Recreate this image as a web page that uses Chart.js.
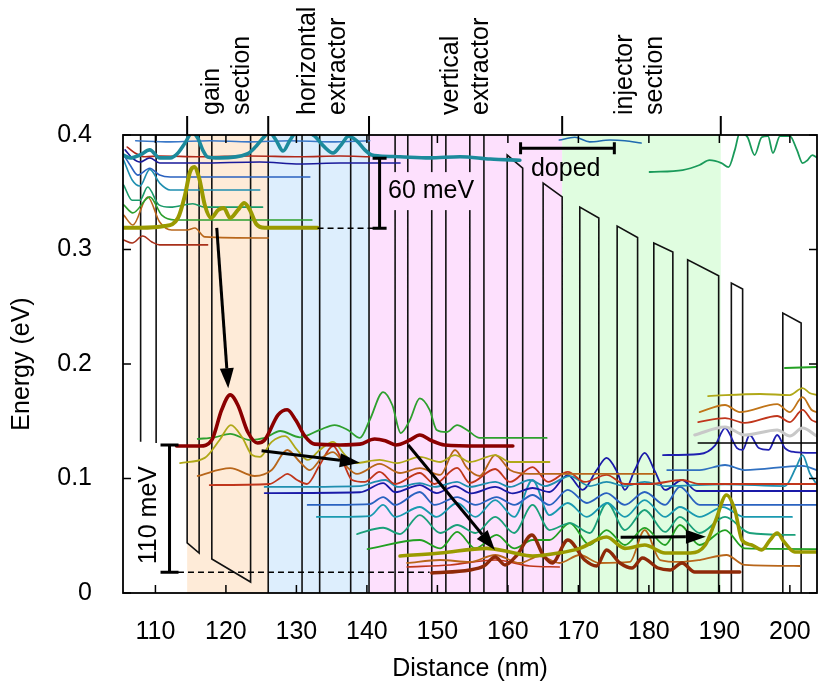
<!DOCTYPE html>
<html><head><meta charset="utf-8">
<script src="https://cdn.jsdelivr.net/npm/chart.js@4.4.1/dist/chart.umd.min.js"></script>
<style>html,body{margin:0;padding:0;background:#fff;}canvas{display:block;}</style>
</head><body>
<canvas id="c" width="818" height="691"></canvas>
<script>
// ---------- axes / sections ----------
const xTicks = [110,120,130,140,150,160,170,180,190,200];
const yTicks = [0,0.1,0.2,0.3,0.4];
const yTickLabels = ['0','0.1','0.2','0.3','0.4'];
const sectionNames = [['gain','section'],['horizontal','extractor'],['vertical','extractor'],['injector','section']];
const sectionBounds = [114.5,126.0,140.3,167.7,190.2];
const sectionLabelCenters = [120.1,133.8,154.1,178.7];

// ---------- conduction band profile (nm, eV); null = break ----------
const bandProfile = [
 [107.9,0.5],[107.9,0.132],null,
 [110.1,0.131],[110.1,0.5],[114.5,0.5],[114.5,0.0437],[116.2,0.0349],[116.2,0.5],[118.0,0.5],[118.0,0.0297],[123.5,0.0096],[123.5,0.5],
 [126.0,0.5],[126.0,-0.1],[130.8,-0.1],[130.8,0.5],[133.3,0.5],[133.3,-0.1],[137.7,-0.1],[137.7,0.5],[140.3,0.5],[140.3,-0.1],
 [144.0,-0.1],[144.0,0.5],[145.8,0.5],[145.8,-0.1],[149.2,-0.1],[149.2,0.5],[151.2,0.5],[151.2,-0.1],[154.6,-0.1],[154.6,0.5],
 [156.6,0.5],[156.6,-0.1],[159.9,-0.1],[159.9,0.3825],[162.1,0.371],[162.1,-0.1],[165.0,-0.1],[165.0,0.358],[167.7,0.346],[167.7,-0.1],
 [170.2,-0.1],[170.2,0.337],[172.9,0.3275],[172.9,-0.1],[175.5,-0.1],[175.5,0.3205],[178.4,0.3105],[178.4,-0.1],[180.7,-0.1],[180.7,0.3057],
 [183.4,0.2978],[183.4,-0.1],[185.5,-0.1],[185.5,0.291],[189.9,0.277],[189.9,-0.1],[191.7,-0.1],[191.7,0.2707],[193.3,0.2655],[193.3,-0.1],
 [199.0,-0.1],[199.0,0.2445],[201.6,0.2358],[201.6,-0.1],[206,-0.1]
];

// ---------- wavefunctions: energy + |psi|^2 (nm, eV) ----------
const ulBlueTop = [[107.2,0.395],[112.1,0.394],[117.7,0.395],[123.4,0.394],[129.1,0.395],[134.8,0.394],[140.4,0.395]];
const dopedBlueTop = [[167.3,0.3956],[169.5,0.398],[171.6,0.394],[174.5,0.3956],[176.6,0.395],[178.9,0.393]];
const ulTealThick = [[105.4,0.3825],[106.4,0.380],[107.8,0.3825],[109.2,0.387],[110.6,0.380],[112.1,0.380],[113.2,0.3843],[114.2,0.393],[115.2,0.402],[116.0,0.3974],[116.7,0.387],[117.4,0.3808],[119.1,0.380],[123.0,0.3834],[124.1,0.389],[125.2,0.397],[126.2,0.402],[127.1,0.3956],[128.1,0.386],[129.1,0.3956],[129.9,0.402],[131.2,0.403],[132.6,0.399],[133.9,0.390],[135.2,0.3843],[136.3,0.391],[137.4,0.399],[138.6,0.3947],[139.7,0.387],[140.7,0.3825],[141.8,0.3817],[144.7,0.381],[148.9,0.380],[153.2,0.381],[157.5,0.379],[161.7,0.378]];
const ulRed = [[106.0,0.3895],[107.1,0.3843],[108.5,0.381],[110.6,0.3817],[116.3,0.381],[123.4,0.3817],[130.5,0.381],[136.2,0.3817],[140.4,0.381]];
const ulNavy = [[105.7,0.387],[106.7,0.380],[107.8,0.3764],[109.2,0.380],[110.6,0.3755],[116.3,0.3755],[124.8,0.3764],[130.5,0.3747],[136.2,0.3755],[144.7,0.3755]];
const ulBlue = [[105.5,0.3825],[106.4,0.3738],[107.5,0.365],[109.2,0.371],[110.6,0.365],[112.1,0.3633],[131.9,0.3633]];
const ulTeal = [[105.5,0.378],[106.7,0.3607],[107.8,0.3555],[109.2,0.370],[110.6,0.358],[112.1,0.352],[124.8,0.352]];
const ulTealGreen = [[105.5,0.3563],[106.7,0.343],[107.8,0.343],[108.9,0.3546],[110.5,0.339],[112.1,0.337],[115.3,0.340],[117.0,0.337],[125.2,0.337]];
const ulGreen = [[105.5,0.339],[106.8,0.332],[109.2,0.346],[110.9,0.330],[112.8,0.3258],[132.2,0.3258]];
const ulOrange = [[105.5,0.330],[106.8,0.3214],[108.9,0.3459],[110.6,0.324],[112.3,0.317],[114.5,0.317],[115.6,0.3188],[117.0,0.311],[126.0,0.310]];
const ulOliveThick = [[105.4,0.319],[107.8,0.319],[111.3,0.3205],[113.2,0.3275],[114.2,0.3476],[114.9,0.3677],[115.5,0.372],[116.2,0.3624],[117.0,0.3389],[117.9,0.3275],[118.9,0.3345],[119.7,0.3362],[120.6,0.3275],[121.7,0.3345],[122.6,0.3406],[123.4,0.3345],[124.3,0.3223],[125.5,0.319],[133.0,0.319]];
const ulDarkRed = [[105.5,0.3083],[106.7,0.3057],[108.2,0.3118],[109.5,0.3066],[110.6,0.304],[117.4,0.304]];
const trGreen = [[180.1,0.3677],[184.8,0.3694],[187.2,0.3738],[188.6,0.378],[190.3,0.3755],[191.3,0.372],[192.2,0.387],[192.9,0.402],[194.0,0.398],[195.0,0.3825],[196.0,0.398],[196.9,0.399],[197.6,0.3843],[198.6,0.399],[200.0,0.399],[201.0,0.387],[201.8,0.3755],[202.5,0.378],[203.2,0.3825],[203.9,0.380]];

const mDarkRedThick = [[113.0,0.1284],[116.3,0.1284],[118.0,0.1336],[119.4,0.160],[120.6,0.173],[121.7,0.164],[123.1,0.1406],[124.5,0.131],[125.5,0.1336],[127.4,0.1555],[128.7,0.160],[129.9,0.151],[131.2,0.137],[132.6,0.130],[136.2,0.1293],[139.0,0.130],[141.1,0.1345],[142.6,0.133],[144.1,0.1293],[146.1,0.1336],[147.5,0.138],[149.2,0.133],[151.0,0.1293],[156.0,0.1284],[160.7,0.1284]];
const mOlive = [[113.5,0.1135],[117.0,0.118],[119.1,0.1336],[120.7,0.1467],[122.3,0.136],[123.7,0.1205],[124.8,0.1188],[126.5,0.132],[128.4,0.137],[130.1,0.1249],[131.6,0.1162],[133.3,0.1249],[135.2,0.132],[136.9,0.1205],[138.3,0.1135],[141.8,0.1162],[144.3,0.1135],[147.5,0.1188],[150.4,0.1144],[152.5,0.1205],[154.6,0.1144],[158.2,0.1205],[160.3,0.1144],[165.9,0.1144]];
const mGreen = [[116.0,0.1345],[118.4,0.136],[120.6,0.1389],[123.4,0.1336],[125.5,0.1354],[127.7,0.1415],[130.5,0.136],[133.3,0.1424],[135.4,0.1467],[137.3,0.1424],[139.0,0.1354],[140.4,0.1511],[142.3,0.1755],[143.6,0.1642],[144.8,0.1397],[146.1,0.1511],[147.5,0.170],[148.9,0.160],[149.9,0.1424],[151.3,0.1406],[152.8,0.1467],[154.2,0.1424],[156.0,0.1354],[165.5,0.1354]];
const mOrange = [[116.0,0.1022],[120.6,0.109],[124.1,0.1022],[126.5,0.1074],[128.7,0.1249],[130.5,0.1144],[131.9,0.1074],[133.6,0.118],[135.2,0.123],[136.9,0.1118],[138.6,0.104],[141.8,0.1127],[144.7,0.1048],[147.5,0.109],[150.4,0.1031],[152.5,0.1249],[154.2,0.1092],[156.0,0.1022],[158.2,0.1205],[160.3,0.1074],[163.1,0.104],[180.9,0.104]];
const mRed = [[117.7,0.0943],[126.2,0.0952],[127.7,0.1004],[128.7,0.104],[130.1,0.0987],[131.5,0.0952],[133.3,0.1118],[135.2,0.1284],[136.6,0.1144],[137.9,0.0987],[139.7,0.097],[141.8,0.1057],[144.0,0.0952],[147.5,0.1048],[149.6,0.0952],[152.8,0.1092],[154.6,0.0961],[158.2,0.1083],[160.3,0.097],[163.5,0.110],[165.7,0.097],[168.5,0.1057],[170.9,0.097],[174.0,0.1031],[176.6,0.0952],[180.1,0.0952],[184.7,0.0987],[187.2,0.0952],[203.8,0.0952]];
const mTeal = [[125.5,0.0926],[139.0,0.0934],[141.1,0.097],[142.6,0.0987],[144.4,0.0926],[147.5,0.096],[149.6,0.0926],[152.8,0.097],[154.6,0.0926],[158.2,0.097],[160.3,0.0926],[163.1,0.0987],[165.3,0.0934],[168.8,0.102],[171.6,0.0934],[174.0,0.097],[176.6,0.0934],[179.4,0.097],[182.3,0.0934],[190.8,0.095],[199.3,0.0934],[200.9,0.11],[201.8,0.1205],[202.8,0.105],[203.8,0.095]];
const mNavy = [[125.5,0.0873],[139.0,0.088],[142.3,0.096],[144.0,0.088],[147.5,0.0943],[149.9,0.0873],[152.5,0.0934],[154.8,0.087],[158.2,0.0926],[160.7,0.087],[163.5,0.0917],[165.9,0.0882],[168.5,0.103],[170.6,0.090],[172.6,0.1074],[174.0,0.118],[175.5,0.1057],[176.6,0.090],[178.0,0.1074],[179.4,0.1223],[180.9,0.1057],[182.3,0.090],[184.7,0.0987],[186.8,0.0891],[203.8,0.0891]];
const mBlue = [[131.6,0.0769],[140.4,0.0777],[142.3,0.0838],[144.0,0.0769],[147.5,0.0882],[149.6,0.0769],[152.8,0.0838],[155.4,0.0769],[158.4,0.0838],[160.9,0.0769],[163.5,0.0856],[165.9,0.0769],[168.5,0.090],[171.2,0.0786],[174.0,0.0873],[176.6,0.0769],[179.4,0.0882],[182.3,0.0769],[184.4,0.0926],[187.2,0.0769],[203.8,0.0769]];
const mTeal2 = [[132.9,0.0664],[140.4,0.0672],[142.3,0.0769],[144.0,0.0664],[147.5,0.0751],[149.9,0.0664],[152.8,0.0786],[155.4,0.0664],[158.2,0.0812],[160.9,0.0664],[163.5,0.0987],[165.9,0.0681],[168.5,0.0786],[171.2,0.0664],[174.1,0.0786],[176.6,0.0664],[179.4,0.0812],[182.3,0.0664],[184.4,0.0751],[187.2,0.0664],[190.5,0.075],[193.5,0.0664],[200.3,0.0664]];
const mTealGreen = [[138.6,0.0515],[142.3,0.057],[144.7,0.0515],[147.5,0.0681],[150.4,0.0524],[152.8,0.0594],[155.4,0.0524],[158.2,0.0664],[160.9,0.0524],[163.5,0.0769],[165.9,0.0550],[168.8,0.0611],[171.6,0.0524],[174.1,0.0786],[176.6,0.055],[179.4,0.0725],[182.3,0.0533],[184.4,0.0664],[187.2,0.0524],[190.8,0.0664],[194.3,0.0524],[200.7,0.0507]];
const mGreen2 = [[140.1,0.0384],[147.5,0.0463],[150.4,0.0389],[152.8,0.0533],[155.4,0.0389],[158.4,0.0507],[160.9,0.0389],[163.5,0.0463],[165.9,0.0463],[168.8,0.0611],[171.6,0.0419],[174.0,0.055],[176.6,0.0419],[179.4,0.0568],[182.3,0.0419],[184.4,0.0594],[187.2,0.0419],[190.8,0.055],[193.6,0.0389],[203.8,0.0384]];
const mOliveThick = [[144.7,0.0323],[150.4,0.035],[157.0,0.039],[160.3,0.0358],[163.5,0.0323],[167.3,0.035],[170.2,0.039],[174.0,0.0489],[176.6,0.039],[179.4,0.0419],[182.3,0.035],[185.9,0.035],[188.0,0.0419],[189.5,0.0638],[191.0,0.0856],[192.2,0.0725],[193.2,0.0463],[194.6,0.0419],[196.0,0.0376],[197.2,0.0463],[198.2,0.0524],[199.2,0.0445],[200.7,0.0358],[203.8,0.0358]];
const mOrange2 = [[145.7,0.0262],[150.4,0.0288],[154.6,0.0271],[158.2,0.0332],[161.7,0.0262],[164.5,0.0323],[167.3,0.0262],[170.2,0.0332],[173.0,0.0262],[177.3,0.0271],[179.4,0.055],[181.6,0.0288],[184.4,0.0271],[187.2,0.0288],[191.0,0.0332],[193.6,0.0245],[201.4,0.0236]];
const mRed2 = [[145.7,0.0227],[151.8,0.0245],[158.2,0.0288],[163.1,0.0236],[167.3,0.0227]];
const mBrownThick = [[149.2,0.0175],[154.6,0.0201],[156.6,0.0236],[158.2,0.0314],[159.6,0.0245],[161.3,0.0332],[163.4,0.0507],[165.0,0.0332],[166.3,0.0262],[168.5,0.0463],[170.9,0.0288],[172.6,0.0236],[174.0,0.0376],[175.9,0.0262],[177.6,0.0218],[179.1,0.0306],[181.3,0.0218],[183.0,0.0201],[184.7,0.0262],[186.5,0.0183],[192.9,0.0183]];

const rGreen = [[199.3,0.1965],[203.8,0.1974]];
const rOlive = [[188.4,0.172],[195.8,0.1738],[200.0,0.1729],[201.8,0.179],[202.8,0.1747],[203.8,0.1729]];
const rOrange = [[187.2,0.158],[190.8,0.1642],[192.9,0.158],[198.2,0.165],[200.0,0.158],[201.8,0.171],[203.1,0.1598],[203.8,0.158]];
const rRed = [[187.0,0.1493],[190.8,0.1528],[193.6,0.1485],[198.2,0.1546],[200.0,0.1493],[201.8,0.160],[203.1,0.151],[203.8,0.1493]];
const rGray = [[186.5,0.138],[190.8,0.145],[193.6,0.138],[198.2,0.1424],[200.0,0.1371],[201.8,0.144],[203.8,0.1371]];
const rBlack = [[187.0,0.131],[203.8,0.131]];
const rNavy = [[182.0,0.1205],[187.2,0.1214],[189.4,0.129],[190.8,0.144],[192.5,0.1266],[193.3,0.125],[194.3,0.138],[195.6,0.1266],[197.0,0.125],[198.2,0.138],[199.3,0.1266],[200.7,0.1231],[203.8,0.1223]];
const rBlue = [[182.6,0.1074],[187.2,0.1074],[190.8,0.1118],[193.6,0.1074],[201.8,0.111],[203.8,0.1074]];

// ---------- annotations (nm, eV) ----------
const arrows = [[118.7,0.3188,120.33,0.1788],[125.06,0.1243,139.0,0.1138],[145.86,0.1293,158.16,0.0376],[175.99,0.0486,188.09,0.0492]];
const bar60 = [141.8,0.3185,0.3797];
const dash60 = [133.0,140.9,0.3185];
const bar110 = [112.0,0.0181,0.1293];
const dash110 = [113.2,148.9,0.0181];
const dopedBar = [161.8,175.1,0.3884];

// ---------- styles ----------
const FONT = '"Liberation Sans", Arial, Helvetica, sans-serif';
const FS = 25;
const sectionFills = ['#feebd8','#ddeefd','#fde0fd','#e0fde0'];
const curveStyles = [
 [mDarkRedThick,'#8b0000',3.6],[ulOliveThick,'#9a9a00',4],[mOliveThick,'#9a9a00',3.6],[mBrownThick,'#8f2a08',3.4],[ulTealThick,'#1c8a9c',3.6],
 [rGray,'#c8c8c8',3],[rBlack,'#000000',1.6],
 [ulBlueTop,'#3a78c8',1.6],[dopedBlueTop,'#1f6ab0',1.6],[ulRed,'#b0281a',1.6],[ulNavy,'#1a1a9a',1.6],[ulBlue,'#2a62c0',1.6],[ulTeal,'#1f8fb0',1.6],
 [ulTealGreen,'#1a9a6a',1.6],[ulGreen,'#2ea02e',1.6],[ulOrange,'#b8661a',1.6],[ulDarkRed,'#a8301a',1.6],[trGreen,'#1a9a5a',1.8],
 [mOlive,'#b0a818',1.8],[mGreen,'#2ea02e',1.8],[mOrange,'#b8661a',1.8],[mRed,'#c0361c',1.8],[mTeal,'#1f8fb0',1.8],[mNavy,'#1a1aa8',1.8],
 [mBlue,'#2a62c0',1.8],[mTeal2,'#1a9ab0',1.8],[mTealGreen,'#1aa07a',1.8],[mGreen2,'#22a022',1.8],[mOrange2,'#b8661a',1.8],[mRed2,'#c0361c',1.6],
 [rGreen,'#22a022',1.8],[rOlive,'#b0a818',1.8],[rOrange,'#c07418',1.8],[rRed,'#c0361c',1.8],[rNavy,'#2020b0',1.8],[rBlue,'#3070c0',1.8]
];

const toXY = arr => arr.map(p => p === null ? {x: 109, y: null} : {x: p[0], y: p[1]});
const datasets = curveStyles.map(([d,c,w]) => ({
  data: toXY(d), borderColor: c, borderWidth: w, pointRadius: 0, fill: false,
  cubicInterpolationMode: 'monotone', borderCapStyle: 'round', borderJoinStyle: 'round'
}));
datasets.push({data: toXY(bandProfile), borderColor: '#111', borderWidth: 1.6, pointRadius: 0, fill: false, tension: 0, spanGaps: false});

function arrow(ctx, x1, y1, x2, y2) {
  const ang = Math.atan2(y2 - y1, x2 - x1), L = 20, W = 7;
  const bx = x2 - L * Math.cos(ang), by = y2 - L * Math.sin(ang);
  ctx.beginPath(); ctx.moveTo(x1, y1); ctx.lineTo(bx, by); ctx.stroke();
  ctx.beginPath(); ctx.moveTo(x2, y2);
  ctx.lineTo(bx + W * Math.sin(ang), by - W * Math.cos(ang));
  ctx.lineTo(bx - W * Math.sin(ang), by + W * Math.cos(ang));
  ctx.closePath(); ctx.fill();
}

const decor = {
  id: 'decor',
  beforeDatasetsDraw(chart) {
    const {ctx, chartArea: a, scales: {x}} = chart;
    ctx.save();
    for (let i = 0; i < sectionFills.length; i++) {
      const x0 = x.getPixelForValue(sectionBounds[i]), x1 = x.getPixelForValue(sectionBounds[i+1]);
      ctx.fillStyle = sectionFills[i];
      ctx.fillRect(x0, a.top, x1 - x0, a.bottom - a.top);
    }
    ctx.restore();
  },
  afterDatasetsDraw(chart) {
    const {ctx, chartArea: a, scales: {x, y}} = chart;
    const X = v => x.getPixelForValue(v), Y = v => y.getPixelForValue(v);
    ctx.save();
    ctx.strokeStyle = '#000'; ctx.fillStyle = '#000'; ctx.lineCap = 'butt';
    ctx.lineWidth = 1.5;
    ctx.beginPath();
    xTicks.forEach(v => { const p = X(v); ctx.moveTo(p, a.bottom); ctx.lineTo(p, a.bottom - 8); ctx.moveTo(p, a.top); ctx.lineTo(p, a.top + 8); });
    yTicks.forEach(v => { const p = Y(v); ctx.moveTo(a.left, p); ctx.lineTo(a.left + 8, p); ctx.moveTo(a.right, p); ctx.lineTo(a.right - 8, p); });
    ctx.stroke();
    ctx.lineWidth = 2;
    ctx.beginPath();
    sectionBounds.forEach(v => { const p = X(v); ctx.moveTo(p, a.top - 19); ctx.lineTo(p, a.top); });
    ctx.stroke();
    ctx.lineWidth = 1.8;
    ctx.strokeRect(a.left, a.top, a.right - a.left, a.bottom - a.top);
    ctx.font = FS + 'px ' + FONT; ctx.textBaseline = 'middle'; ctx.textAlign = 'left';
    sectionNames.forEach((lines, i) => {
      const cx = X(sectionLabelCenters[i]);
      lines.forEach((t, j) => {
        ctx.save(); ctx.translate(cx + (j - 0.5) * 30, a.top - 20); ctx.rotate(-Math.PI / 2);
        ctx.fillText(t, 0, 0); ctx.restore();
      });
    });
    ctx.lineWidth = 3;
    arrows.forEach(r => arrow(ctx, X(r[0]), Y(r[1]), X(r[2]), Y(r[3])));
    ctx.lineWidth = 1.6; ctx.setLineDash([6, 4]);
    ctx.beginPath();
    ctx.moveTo(X(dash60[0]), Y(dash60[2])); ctx.lineTo(X(dash60[1]), Y(dash60[2]));
    ctx.moveTo(X(dash110[0]), Y(dash110[2])); ctx.lineTo(X(dash110[1]), Y(dash110[2]));
    ctx.stroke(); ctx.setLineDash([]);
    const lx60 = X(149.1), ly60 = Y(0.351);
    const w60 = ctx.measureText('60 meV').width;
    ctx.fillStyle = sectionFills[2];
    ctx.fillRect(lx60 - w60 / 2 - 3, ly60 - 19, w60 + 6, 38);
    ctx.fillStyle = '#000';
    ctx.lineWidth = 3;
    ctx.beginPath();
    let bx = X(bar60[0]);
    ctx.moveTo(bx, Y(bar60[1])); ctx.lineTo(bx, Y(bar60[2]));
    ctx.moveTo(bx - 7, Y(bar60[1])); ctx.lineTo(bx + 7, Y(bar60[1]));
    ctx.moveTo(bx - 7, Y(bar60[2])); ctx.lineTo(bx + 7, Y(bar60[2]));
    bx = X(bar110[0]);
    ctx.moveTo(bx, Y(bar110[1])); ctx.lineTo(bx, Y(bar110[2]));
    ctx.moveTo(bx - 9, Y(bar110[1])); ctx.lineTo(bx + 9, Y(bar110[1]));
    ctx.moveTo(bx - 9, Y(bar110[2])); ctx.lineTo(bx + 9, Y(bar110[2]));
    const dy = Y(dopedBar[2]);
    ctx.moveTo(X(dopedBar[0]), dy); ctx.lineTo(X(dopedBar[1]), dy);
    ctx.moveTo(X(dopedBar[0]), dy - 6); ctx.lineTo(X(dopedBar[0]), dy + 6);
    ctx.moveTo(X(dopedBar[1]), dy - 6); ctx.lineTo(X(dopedBar[1]), dy + 6);
    ctx.stroke();
    ctx.textAlign = 'center'; ctx.textBaseline = 'middle';
    ctx.fillText('60 meV', lx60, ly60);
    ctx.fillText('doped', X(168.2), Y(0.3703));
    ctx.save(); ctx.translate(X(109.1), Y(0.068)); ctx.rotate(-Math.PI / 2);
    ctx.fillText('110 meV', 0, 0); ctx.restore();
    ctx.restore();
  }
};

new Chart(document.getElementById('c'), {
  type: 'line',
  data: {datasets},
  options: {
    responsive: false, animation: false, devicePixelRatio: 1,
    layout: {padding: {top: 135, right: 1, left: 0, bottom: 0}},
    plugins: {legend: {display: false}, tooltip: {enabled: false}},
    elements: {point: {radius: 0}},
    scales: {
      x: {
        type: 'linear', min: 105.4, max: 203.85,
        grid: {display: false}, border: {display: false},
        afterBuildTicks: s => { s.ticks = xTicks.map(v => ({value: v})); },
        afterFit: s => { s.height = 98; s.paddingLeft = 0; s.paddingRight = 0; },
        ticks: {font: {family: FONT, size: FS}, color: '#000', padding: 16, maxRotation: 0, autoSkip: false, callback: v => String(v)},
        title: {display: true, text: 'Distance (nm)', font: {family: FONT, size: FS}, color: '#000', padding: {top: 0, bottom: 7}}
      },
      y: {
        type: 'linear', min: 0, max: 0.4,
        grid: {display: false}, border: {display: false},
        afterBuildTicks: s => { s.ticks = yTicks.map(v => ({value: v})); },
        afterFit: s => { s.width = 123; s.paddingTop = 0; s.paddingBottom = 0; },
        ticks: {font: {family: FONT, size: FS}, color: '#000', padding: 23, autoSkip: false, callback: (v, i) => yTickLabels[i]},
        title: {display: true, text: 'Energy (eV)', font: {family: FONT, size: FS}, color: '#000', padding: {top: 7, bottom: 0}}
      }
    }
  },
  plugins: [decor]
});
</script>
</body></html>
